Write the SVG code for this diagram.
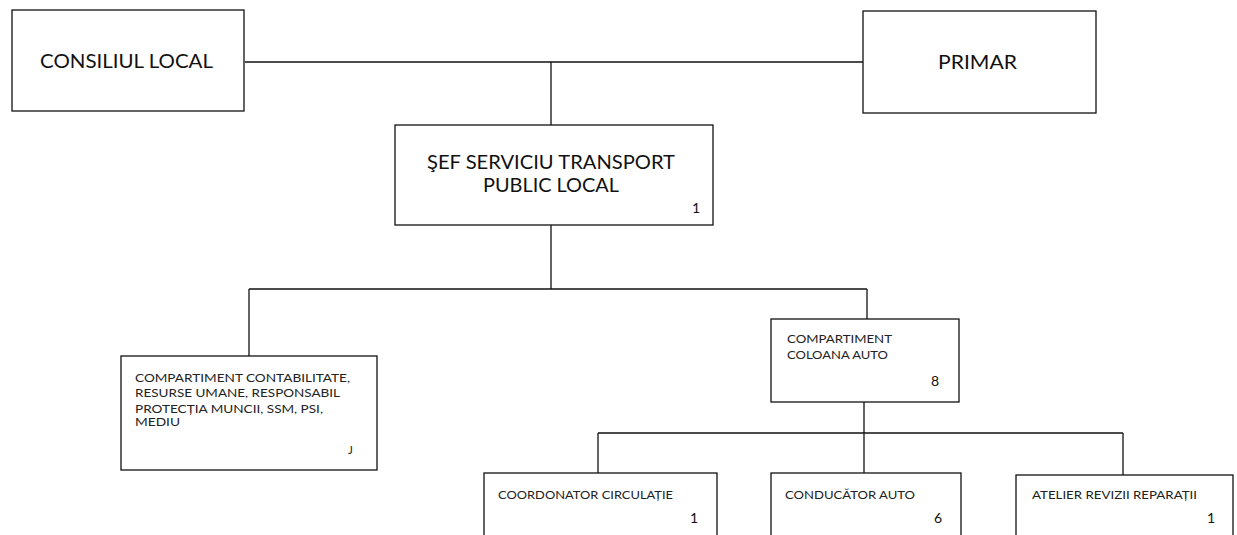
<svg xmlns="http://www.w3.org/2000/svg" width="1237" height="535" viewBox="0 0 1237 535">
<style>
.box{fill:#fff;stroke:#111;stroke-width:1.3}
.ln{fill:none;stroke:#111;stroke-width:1.3}
.big{font-family:Lato,"Open Sans","Liberation Sans",sans-serif;font-size:19.5px;fill:#111}
.sm{font-family:Lato,"Open Sans","Liberation Sans",sans-serif;font-size:11.5px;fill:#222}
.num{font-family:Lato,"Open Sans","Liberation Sans",sans-serif;font-size:14px;fill:#111}
</style>
<rect width="1237" height="535" fill="#fff"/>
<g id="connectors">
<path class="ln" d="M245 62H863"/>
<path class="ln" d="M551 62V125"/>
<path class="ln" d="M551 225V289"/>
<path class="ln" d="M249 289H867"/>
<path class="ln" d="M249 289V356"/>
<path class="ln" d="M867 289V319"/>
<path class="ln" d="M864 402V473"/>
<path class="ln" d="M598 433H1123"/>
<path class="ln" d="M598 433V473"/>
<path class="ln" d="M1123 433V475"/>
</g>
<g id="consiliul">
<rect class="box" x="12" y="10" width="232" height="101"/>
<text class="big" x="40" y="68" textLength="173" lengthAdjust="spacingAndGlyphs">CONSILIUL LOCAL</text>
</g>
<g id="primar">
<rect class="box" x="863" y="11" width="233" height="102"/>
<text class="big" x="938" y="69" textLength="79" lengthAdjust="spacingAndGlyphs">PRIMAR</text>
</g>
<g id="sef">
<rect class="box" x="395" y="125" width="318" height="100"/>
<text class="big" x="427" y="169" textLength="248" lengthAdjust="spacingAndGlyphs">ŞEF SERVICIU TRANSPORT</text>
<text class="big" x="483" y="192" textLength="136" lengthAdjust="spacingAndGlyphs">PUBLIC LOCAL</text>
<text class="num" x="692" y="213" font-size="11">1</text>
</g>
<g id="contabilitate">
<rect class="box" x="121" y="356" width="256" height="114"/>
<text class="sm" x="135" y="382" textLength="215" lengthAdjust="spacingAndGlyphs">COMPARTIMENT CONTABILITATE,</text>
<text class="sm" x="135" y="397" textLength="205" lengthAdjust="spacingAndGlyphs">RESURSE UMANE,  RESPONSABIL</text>
<text class="sm" x="135" y="413" textLength="188" lengthAdjust="spacingAndGlyphs">PROTECȚIA MUNCII, SSM, PSI,</text>
<text class="sm" x="135" y="426" textLength="45" lengthAdjust="spacingAndGlyphs">MEDIU</text>
<text class="sm" x="348" y="454">J</text>
</g>
<g id="coloana">
<rect class="box" x="771" y="319" width="188" height="83"/>
<text class="sm" x="787" y="343" textLength="105" lengthAdjust="spacingAndGlyphs">COMPARTIMENT</text>
<text class="sm" x="787" y="359" textLength="101" lengthAdjust="spacingAndGlyphs">COLOANA AUTO</text>
<text class="num" x="931" y="386">8</text>
</g>
<g id="coordonator">
<rect class="box" x="484" y="473" width="233" height="70"/>
<text class="sm" x="498" y="499" textLength="175" lengthAdjust="spacingAndGlyphs">COORDONATOR CIRCULAȚIE</text>
<text class="num" x="690" y="523">1</text>
</g>
<g id="conducator">
<rect class="box" x="771" y="473" width="190" height="70"/>
<text class="sm" x="785" y="499" textLength="130" lengthAdjust="spacingAndGlyphs">CONDUCĂTOR AUTO</text>
<text class="num" x="934" y="523">6</text>
</g>
<g id="atelier">
<rect class="box" x="1016" y="475" width="217" height="70"/>
<text class="sm" x="1032" y="499" textLength="165" lengthAdjust="spacingAndGlyphs">ATELIER REVIZII REPARAȚII</text>
<text class="num" x="1207" y="523">1</text>
</g>
</svg>
